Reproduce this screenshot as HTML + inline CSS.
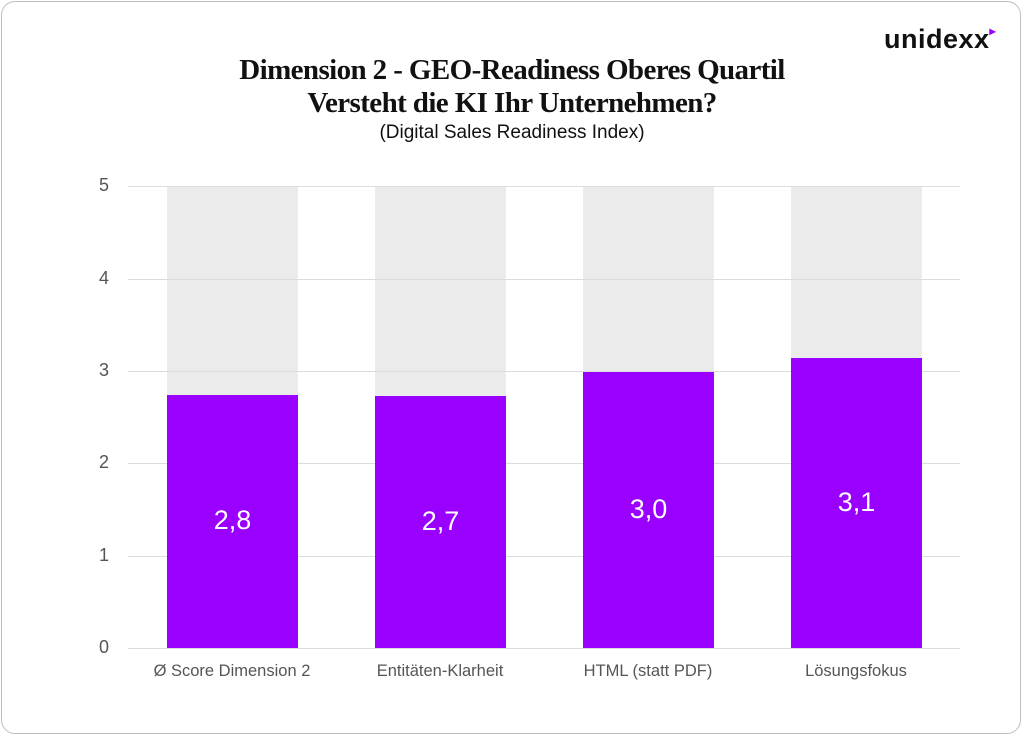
<!DOCTYPE html>
<html><head><meta charset="utf-8"><style>
html,body{margin:0;padding:0;background:#fff;}
body{width:1024px;height:737px;position:relative;overflow:hidden;font-family:"Liberation Sans",sans-serif;}
.frame{position:absolute;left:1px;top:1px;width:1020px;height:733px;border:1px solid #bdbdbd;border-radius:14px;box-sizing:border-box;}
.t{position:absolute;left:0;width:1024px;text-align:center;font-family:"Liberation Serif",serif;font-weight:bold;font-size:29px;color:#111;letter-spacing:-0.6px;}
.sub{position:absolute;left:0;width:1024px;text-align:center;top:122px;font-size:19px;color:#111;}
.logo{position:absolute;left:884px;top:24px;font-size:27px;font-weight:bold;color:#111;letter-spacing:0.5px;}
.grid{position:absolute;left:128px;width:832px;height:1px;background:#dcdcdc;}
.yl{position:absolute;left:94px;width:20px;text-align:center;font-size:18px;color:#555;}
.bg{position:absolute;width:131px;background:#ebebeb;top:186px;height:462px;}
.bar{position:absolute;width:131px;background:#9900ff;}
.v{position:absolute;width:131px;text-align:center;color:#fff;font-size:27px;}
.xl{position:absolute;top:662px;width:240px;text-align:center;font-size:16.5px;color:#555;}
</style></head><body>
<div class="frame"></div>
<div class="logo">unidexx<span style="color:#9900ff;font-size:12px;vertical-align:top;">▸</span></div>
<div class="t" style="top:54px;">Dimension 2 - GEO-Readiness Oberes Quartil</div>
<div class="t" style="top:87px;">Versteht die KI Ihr Unternehmen?</div>
<div class="sub">(Digital Sales Readiness Index)</div>

<div class="bg" style="left:167px"></div>
<div class="bg" style="left:375px"></div>
<div class="bg" style="left:583px"></div>
<div class="bg" style="left:791px"></div>

<div class="grid" style="top:186px"></div>
<div class="grid" style="top:279px"></div>
<div class="grid" style="top:371px"></div>
<div class="grid" style="top:463px"></div>
<div class="grid" style="top:556px"></div>
<div class="grid" style="top:648px"></div>

<div class="yl" style="top:175px">5</div>
<div class="yl" style="top:268px">4</div>
<div class="yl" style="top:360px">3</div>
<div class="yl" style="top:452px">2</div>
<div class="yl" style="top:545px">1</div>
<div class="yl" style="top:637px">0</div>

<div class="bar" style="left:167px;top:395px;height:253px"></div>
<div class="bar" style="left:375px;top:396px;height:252px"></div>
<div class="bar" style="left:583px;top:372px;height:276px"></div>
<div class="bar" style="left:791px;top:358px;height:290px"></div>

<div class="v" style="left:167px;top:505px">2,8</div>
<div class="v" style="left:375px;top:506px">2,7</div>
<div class="v" style="left:583px;top:494px">3,0</div>
<div class="v" style="left:791px;top:487px">3,1</div>

<div class="xl" style="left:112px">Ø Score Dimension 2</div>
<div class="xl" style="left:320px">Entitäten-Klarheit</div>
<div class="xl" style="left:528px">HTML (statt PDF)</div>
<div class="xl" style="left:736px">Lösungsfokus</div>
</body></html>
